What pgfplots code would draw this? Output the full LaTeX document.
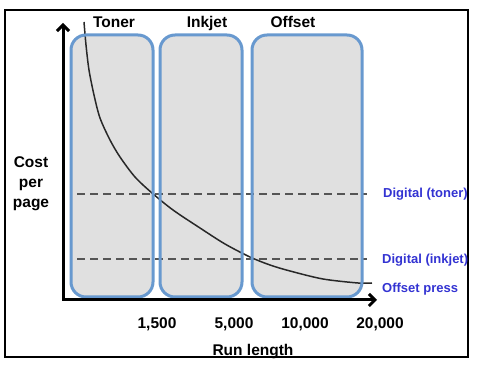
\documentclass[border=0pt]{standalone}
\usepackage{fontspec}
\setmainfont{Liberation Sans}
\usepackage{pgfplots}
\pgfplotsset{compat=1.18}
\usetikzlibrary{arrows.meta}
\definecolor{boxblue}{RGB}{104,153,207}
\definecolor{boxgray}{RGB}{224,224,224}
\definecolor{lblblue}{RGB}{51,51,210}
\definecolor{dashgray}{RGB}{85,85,85}
\definecolor{curvecol}{RGB}{40,40,40}
\begin{document}
\begin{tikzpicture}
\begin{axis}[
  scale only axis, width=477pt, height=366pt,
  xmin=0, xmax=477, ymin=0, ymax=366,
  hide axis, clip=false,
]
\path (axis cs:0,0) rectangle (axis cs:477,366);
% outer frame
\draw[line width=2.5pt, black] (axis cs:5,356) rectangle (axis cs:468,9);
% box fills
\addplot[fill=boxgray, draw=none, rounded corners=15pt] coordinates {(112,331) (153,331) (153,69) (71,69) (71,331)} -- cycle;
\addplot[fill=boxgray, draw=none, rounded corners=15pt] coordinates {(201,331) (242,331) (242,69) (160,69) (160,331)} -- cycle;
\addplot[fill=boxgray, draw=none, rounded corners=15pt] coordinates {(307,331) (362,331) (362,69) (252,69) (252,331)} -- cycle;
% dashed lines
\addplot[dashgray, line width=2pt, dash pattern=on 8pt off 5pt] coordinates {(77,172) (367,172)};
\addplot[dashgray, line width=2pt, dash pattern=on 8pt off 5pt] coordinates {(77,107) (367,107)};
% cost curve
\addplot[curvecol, line width=1.5pt, smooth] coordinates {
(84,344) (86,321) (89,296) (94,271) (100,248) (110,226) (120,209) (135,189)
(152,173) (173,156) (200,138) (225,122) (250,109) (270,101) (290,95) (323,87) (358,83) (372,83)};
% box outlines
\addplot[draw=boxblue, line width=3pt, rounded corners=15pt] coordinates {(112,331) (153,331) (153,69) (71,69) (71,331)} -- cycle;
\addplot[draw=boxblue, line width=3pt, rounded corners=15pt] coordinates {(201,331) (242,331) (242,69) (160,69) (160,331)} -- cycle;
\addplot[draw=boxblue, line width=3pt, rounded corners=15pt] coordinates {(307,331) (362,331) (362,69) (252,69) (252,331)} -- cycle;
% axes
\addplot[black, line width=3pt, -{Straight Barb[length=6pt,width=12pt]}] coordinates {(63,65) (63,343)};
\addplot[black, line width=3pt, -{Straight Barb[length=6pt,width=12pt]}] coordinates {(62,66) (377,66)};
% labels
\begin{scope}[every node/.style={font=\fontsize{15.5}{18}\selectfont\bfseries, inner sep=0pt}]
\node[anchor=base] at (axis cs:114,338) {Toner};
\node[anchor=base] at (axis cs:207,338) {Inkjet};
\node[anchor=base] at (axis cs:293,338) {Offset};
\node[anchor=base] at (axis cs:31,198) {Cost};
\node[anchor=base] at (axis cs:31,178) {per};
\node[anchor=base] at (axis cs:31,158) {page};
\node[anchor=base] at (axis cs:157,37) {1,500};
\node[anchor=base] at (axis cs:234,37) {5,000};
\node[anchor=base] at (axis cs:305,37) {10,000};
\node[anchor=base] at (axis cs:380,37) {20,000};
\node[anchor=base] at (axis cs:253,10.5) {Run length};
\end{scope}
\begin{scope}[every node/.style={font=\fontsize{13}{16}\selectfont\bfseries, text=lblblue, inner sep=0pt, anchor=base west}]
\node at (axis cs:383,168) {Digital (toner)};
\node at (axis cs:382,102) {Digital (inkjet)};
\node at (axis cs:382,73) {Offset press};
\end{scope}
% redraw frame bottom over text
\draw[line width=2.5pt, black] (axis cs:5,9) -- (axis cs:468,9);
\end{axis}
\end{tikzpicture}
\end{document}
